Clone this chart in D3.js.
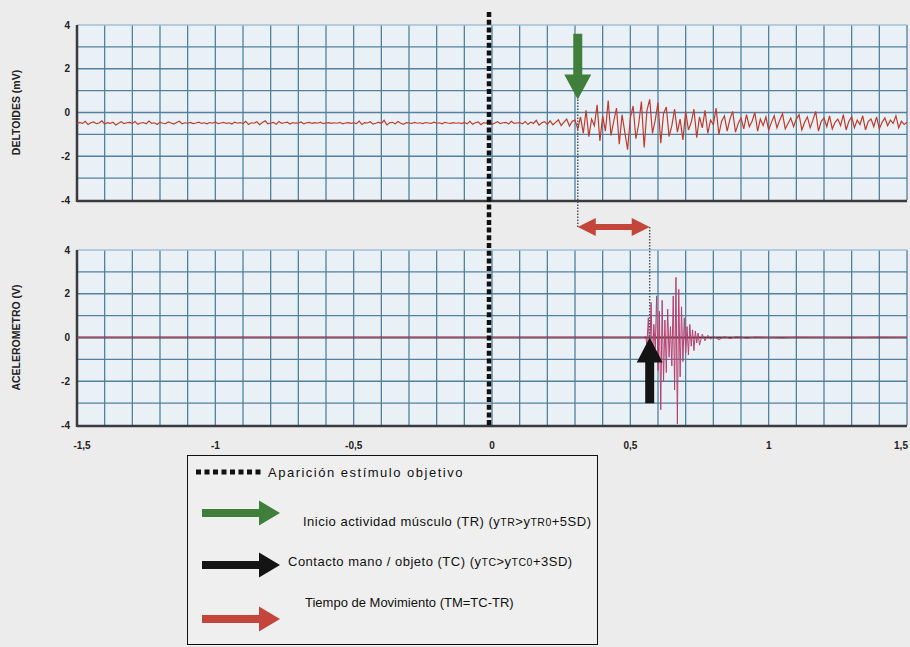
<!DOCTYPE html>
<html>
<head>
<meta charset="utf-8">
<script src="https://cdn.jsdelivr.net/npm/d3@7"></script>
<style>
body { margin: 0; background: #ececec; }
svg { display: block; font-family: "Liberation Sans", Arial, sans-serif; }
</style>
</head>
<body>
<svg id="chart" width="910" height="647"></svg>
<script>
var xTicks = [-1.5, -1, -0.5, 0, 0.5, 1, 1.5];
var xTickLabels = ["-1,5", "-1", "-0,5", "0", "0,5", "1", "1,5"];
var yTicks = [4, 2, 0, -2, -4];
var panelTitles = ["DELTOIDES (mV)", "ACELEROMETRO (V)"];

// EMG deltoides: una muestra cada 0,01 s desde -1,5 s
var emgStart = -1.5,
    emgStep = 0.01;
var emgValues = [
    -0.52,-0.45,-0.50,-0.40,-0.55,-0.47,-0.43,-0.51,-0.48,-0.38,-0.53,-0.46,-0.50,-0.44,-0.57,-0.49,-0.42,-0.51,-0.47,-0.45,
    -0.50,-0.41,-0.54,-0.48,-0.46,-0.52,-0.39,-0.50,-0.47,-0.55,-0.44,-0.49,-0.51,-0.43,-0.48,-0.53,-0.46,-0.40,-0.52,-0.47,
    -0.49,-0.45,-0.51,-0.48,-0.44,-0.50,-0.47,-0.52,-0.46,-0.49,-0.43,-0.51,-0.48,-0.45,-0.50,-0.47,-0.53,-0.44,-0.49,-0.46,
    -0.51,-0.40,-0.55,-0.47,-0.49,-0.42,-0.56,-0.46,-0.38,-0.52,-0.48,-0.45,-0.54,-0.41,-0.50,-0.47,-0.44,-0.53,-0.46,-0.49,
    -0.48,-0.43,-0.52,-0.47,-0.45,-0.50,-0.46,-0.49,-0.44,-0.51,-0.48,-0.46,-0.50,-0.47,-0.49,-0.45,-0.52,-0.48,-0.46,-0.50,
    -0.47,-0.51,-0.39,-0.55,-0.46,-0.48,-0.42,-0.53,-0.49,-0.44,-0.50,-0.36,-0.57,-0.47,-0.45,-0.52,-0.41,-0.49,-0.54,-0.46,
    -0.48,-0.50,-0.45,-0.49,-0.47,-0.51,-0.46,-0.48,-0.50,-0.44,-0.49,-0.47,-0.52,-0.45,-0.48,-0.50,-0.46,-0.49,-0.47,-0.51,
    -0.45,-0.52,-0.40,-0.54,-0.47,-0.43,-0.56,-0.46,-0.49,-0.38,-0.55,-0.48,-0.42,-0.51,-0.47,-0.45,-0.53,-0.40,-0.50,-0.48,
    -0.46,-0.52,-0.41,-0.55,-0.44,-0.50,-0.36,-0.58,-0.47,-0.42,-0.54,-0.38,-0.56,-0.45,-0.33,-0.60,-0.44,-0.30,-0.62,-0.40,
    -0.35,-0.75,-0.20,-0.95,0.10,-1.10,-0.30,-0.60,0.35,-1.30,-0.15,-0.85,0.55,-1.05,-0.40,0.20,-1.45,-0.10,-0.90,-1.70,
    -0.25,0.30,-1.20,-0.55,0.50,-1.60,0.10,0.60,-0.95,-0.35,0.45,-1.40,-0.05,0.25,-1.10,-0.60,0.15,-0.90,-0.30,-1.25,
    0.05,-0.80,-0.45,0.15,-1.15,-0.20,-0.70,0.10,-0.95,-0.35,-0.55,0.20,-1.00,-0.40,-0.15,-0.85,-0.30,0.05,-0.90,-0.50,
    -0.25,-0.75,-0.10,-0.65,-0.40,0.00,-0.85,-0.30,-0.60,-0.20,-0.80,-0.45,-0.15,-0.70,-0.35,-0.05,-0.75,-0.50,-0.25,-0.65,
    -0.30,-0.10,-0.80,-0.45,-0.20,-0.70,-0.35,0.05,-0.85,-0.40,-0.25,-0.65,-0.15,-0.75,-0.45,-0.30,-0.60,-0.10,-0.80,-0.40,
    -0.20,-0.70,-0.35,-0.55,-0.15,-0.80,-0.40,-0.30,-0.65,-0.20,-0.75,-0.45,-0.25,-0.60,-0.35,-0.50,-0.15,-0.70,-0.40,-0.55,
    -0.45
];

// acelerometro: instantes (s) y valores (V)
var accTimes = [-1.5, 0.55, 0.555, 0.56, 0.565, 0.57, 0.575, 0.58, 0.585, 0.59, 0.595,
    0.6, 0.605, 0.61, 0.615, 0.62, 0.625, 0.63, 0.635, 0.64, 0.645,
    0.65, 0.655, 0.66, 0.665, 0.67, 0.675, 0.68, 0.685, 0.69, 0.695,
    0.7, 0.705, 0.71, 0.715, 0.72, 0.725, 0.73, 0.735, 0.74, 0.745,
    0.75, 0.76, 0.77, 0.78, 0.79, 0.8, 0.82, 0.84, 0.86, 0.88,
    0.9, 0.92, 0.95, 1.0, 1.05, 1.1, 1.2, 1.3, 1.4, 1.5];
var accValues = [0, 0, 0.05, -0.3, 0.9, -0.8, 1.6, -1.2, 0.6, -0.5, 1.9,
    -1.5, 1.2, -3.3, 1.7, -2.0, 0.8, -1.6, 1.3, -0.9, 0.5,
    -1.3, 1.9, -2.4, 2.75, -3.95, 2.2, -1.8, 1.4, -1.1, 0.9,
    -0.7, 0.5, -0.8, 0.6, -0.4, 0.35, -0.6, 0.3, -0.25, 0.2,
    -0.35, 0.15, -0.15, 0.1, -0.08, 0.06, -0.1, 0.04, -0.05, 0.03,
    0.02, -0.04, 0.02, 0, -0.02, 0.01, 0, -0.01, 0.01, 0];

var stimulusTime = 0;
var onsetTR = 0.31;
var contactTC = 0.57;

var legendLabels = [
    [["Aparición estímulo objetivo", false]],
    [["Inicio actividad músculo (TR) (y", false], ["TR", true], [">y", false], ["TR0", true], ["+5SD)", false]],
    [["Contacto mano / objeto (TC) (y", false], ["TC", true], [">y", false], ["TC0", true], ["+3SD)", false]],
    [["Tiempo de Movimiento (TM=TC-TR)", false]]
];
var legendColors = [null, "#3f7f3b", "#141414", "#c4453a"];

var svg = d3.select("#chart");
var x = d3.scaleLinear().domain([-1.5, 1.5]).range([77, 907]);
var yTop = d3.scaleLinear().domain([-4, 4]).range([200, 25]);
var yBot = d3.scaleLinear().domain([-4, 4]).range([425, 250]);

var gridColor = "#52809e";

function chart_drawPanel(y, title, darkZero) {
    var g = svg.append("g").attr("class", "panel");
    g.append("rect")
        .attr("x", x(-1.5)).attr("y", y(4))
        .attr("width", x(1.5) - x(-1.5)).attr("height", y(-4) - y(4))
        .attr("fill", "#e9f1f7");
    g.selectAll("line.vgrid")
        .data(x.ticks(30).filter(function(d) { return d > -1.45; }))
        .enter().append("line")
        .attr("class", "vgrid")
        .attr("x1", x).attr("x2", x)
        .attr("y1", y(4)).attr("y2", y(-4))
        .attr("stroke", gridColor).attr("stroke-width", 1.3);
    g.selectAll("line.hgrid")
        .data(y.ticks(8).filter(function(d) { return d > -4; }))
        .enter().append("line")
        .attr("class", "hgrid")
        .attr("x1", x(-1.5)).attr("x2", x(1.5))
        .attr("y1", y).attr("y2", y)
        .attr("stroke", function(d) {
            if (d == 4) return "#9fc0d8";
            return (darkZero && d == 0) ? "#3c3c3c" : gridColor;
        })
        .attr("stroke-width", function(d) { return (darkZero && d == 0) ? 2 : 1.3; });
    // ejes
    g.append("line")
        .attr("x1", x(-1.5)).attr("x2", x(1.5))
        .attr("y1", y(-4) + 1).attr("y2", y(-4) + 1)
        .attr("stroke", "#3a3a3a").attr("stroke-width", 2.5);
    g.append("line")
        .attr("x1", x(-1.5)).attr("x2", x(-1.5))
        .attr("y1", y(4)).attr("y2", y(-4) + 2)
        .attr("stroke", "#3a3a3a").attr("stroke-width", 2.5);
    g.selectAll("text.ytick")
        .data(yTicks)
        .enter().append("text")
        .attr("class", "ytick")
        .attr("x", 70).attr("y", y)
        .attr("dy", "0.35em")
        .attr("text-anchor", "end")
        .attr("font-size", 10).attr("font-weight", "bold")
        .attr("fill", "#222")
        .text(function(d) { return d; });
    g.append("text")
        .attr("transform", "translate(20," + y(0) + ") rotate(-90)")
        .attr("text-anchor", "middle")
        .attr("font-size", 10.5).attr("font-weight", "bold")
        .attr("fill", "#222")
        .text(title);
    return g;
}

function chart_arrowPath(len, shaftW, headL, headW) {
    var pts = [[0, -shaftW / 2], [len - headL, -shaftW / 2], [len - headL, -headW / 2], [len, 0],
        [len - headL, headW / 2], [len - headL, shaftW / 2], [0, shaftW / 2]];
    return "M" + pts.join("L") + "Z";
}

function chart_doubleArrowPath(len, shaftW, headL, headW) {
    var pts = [[0, 0], [headL, -headW / 2], [headL, -shaftW / 2], [len - headL, -shaftW / 2],
        [len - headL, -headW / 2], [len, 0], [len - headL, headW / 2], [len - headL, shaftW / 2],
        [headL, shaftW / 2], [headL, headW / 2]];
    return "M" + pts.join("L") + "Z";
}

var topPanel = chart_drawPanel(yTop, panelTitles[0], false);
var botPanel = chart_drawPanel(yBot, panelTitles[1], true);

svg.selectAll("text.xtick")
    .data(xTicks)
    .enter().append("text")
    .attr("class", "xtick")
    .attr("x", function(d, i) {
        if (i == 0) return x(d) + 5;
        if (i == xTicks.length - 1) return x(d) - 6;
        return x(d);
    })
    .attr("y", 449)
    .attr("text-anchor", "middle")
    .attr("font-size", 10).attr("font-weight", "bold")
    .attr("fill", "#222")
    .text(function(d, i) { return xTickLabels[i]; });

var emgLine = d3.line()
    .x(function(d, i) { return x(emgStart + i * emgStep); })
    .y(function(d) { return yTop(d); });
topPanel.append("path")
    .datum(emgValues)
    .attr("d", emgLine)
    .attr("fill", "none")
    .attr("stroke", "#c23a2c")
    .attr("stroke-width", 1.2);

var accLine = d3.line()
    .x(function(d, i) { return x(accTimes[i]); })
    .y(function(d) { return yBot(d); });
botPanel.append("path")
    .datum(accValues)
    .attr("d", accLine)
    .attr("fill", "none")
    .attr("stroke", "#b8406e")
    .attr("stroke-width", 1);

// linea de aparicion del estimulo
svg.append("line")
    .attr("x1", x(stimulusTime) - 3).attr("x2", x(stimulusTime) - 3)
    .attr("y1", 12).attr("y2", yBot(-4))
    .attr("stroke", "#111").attr("stroke-width", 4.5)
    .attr("stroke-dasharray", "5 2.7");

// marcas TR / TC
var ann = svg.append("g").attr("class", "annotations");
var midY = 227;
ann.append("line")
    .attr("x1", x(onsetTR)).attr("x2", x(onsetTR))
    .attr("y1", yTop(0.6)).attr("y2", midY)
    .attr("stroke", "#555").attr("stroke-width", 1.5)
    .attr("stroke-dasharray", "1.5 1.5");
ann.append("line")
    .attr("x1", x(contactTC)).attr("x2", x(contactTC))
    .attr("y1", midY).attr("y2", yBot(0))
    .attr("stroke", "#555").attr("stroke-width", 1.5)
    .attr("stroke-dasharray", "1.5 1.5");
ann.append("path")
    .attr("d", chart_arrowPath(yTop(0.6) - yTop(3.6), 9, 25, 27))
    .attr("transform", "translate(" + x(onsetTR) + "," + yTop(3.6) + ") rotate(90)")
    .attr("fill", legendColors[1]);
ann.append("path")
    .attr("d", chart_arrowPath(yBot(-3) - yBot(0), 9, 25, 26))
    .attr("transform", "translate(" + x(contactTC) + "," + yBot(-3) + ") rotate(-90)")
    .attr("fill", legendColors[2]);
ann.append("path")
    .attr("d", chart_doubleArrowPath(x(contactTC) - x(onsetTR), 6, 18, 18))
    .attr("transform", "translate(" + x(onsetTR) + "," + midY + ")")
    .attr("fill", legendColors[3]);

// leyenda
var legend = svg.append("g").attr("class", "legend");
legend.append("rect")
    .attr("x", 187.5).attr("y", 455.5)
    .attr("width", 410).attr("height", 189)
    .attr("fill", "#efefef")
    .attr("stroke", "#111").attr("stroke-width", 1);
legend.append("line")
    .attr("x1", 196).attr("x2", 264)
    .attr("y1", 472).attr("y2", 472)
    .attr("stroke", "#111").attr("stroke-width", 5)
    .attr("stroke-dasharray", "5 3.5");

var legendArrowY = [null, 513, 565, 619];
var legendTextPos = [[268, 477], [303, 526], [288, 566], [305, 607]];
var legendSpacing = [1.5, 0.5, 0.5, 0];

legendLabels.forEach(function(parts, i) {
    if (legendArrowY[i] != null) {
        legend.append("path")
            .attr("d", chart_arrowPath(78, 8, 21, 25))
            .attr("transform", "translate(202," + legendArrowY[i] + ")")
            .attr("fill", legendColors[i]);
    }
    var t = legend.append("text")
        .attr("x", legendTextPos[i][0]).attr("y", legendTextPos[i][1])
        .attr("font-size", 13)
        .attr("letter-spacing", legendSpacing[i])
        .attr("fill", "#111");
    parts.forEach(function(p) {
        t.append("tspan")
            .attr("font-size", p[1] ? 10.5 : 13)
            .text(p[0]);
    });
});
</script>
</body>
</html>
